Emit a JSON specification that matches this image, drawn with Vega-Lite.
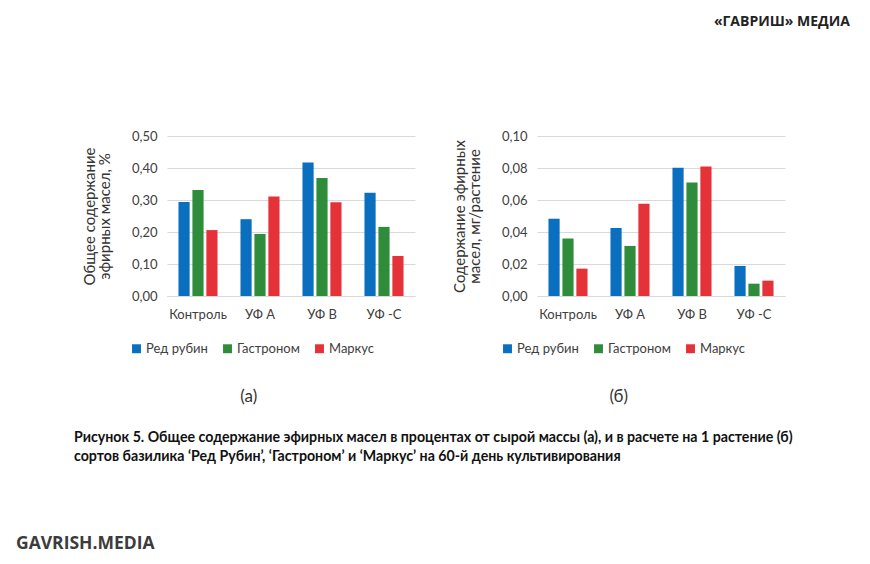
{
  "$schema": "https://vega.github.io/schema/vega-lite/v6.json",
  "background": "#ffffff",
  "padding": {"left": 16, "top": 15, "right": 20, "bottom": 10},
  "datasets": {
    "a": [
      {"group": "Контроль", "variety": "Ред рубин", "value": 0.294},
      {"group": "Контроль", "variety": "Гастроном", "value": 0.331},
      {"group": "Контроль", "variety": "Маркус", "value": 0.206},
      {"group": "УФ А", "variety": "Ред рубин", "value": 0.240},
      {"group": "УФ А", "variety": "Гастроном", "value": 0.194},
      {"group": "УФ А", "variety": "Маркус", "value": 0.311},
      {"group": "УФ В", "variety": "Ред рубин", "value": 0.417},
      {"group": "УФ В", "variety": "Гастроном", "value": 0.369},
      {"group": "УФ В", "variety": "Маркус", "value": 0.293},
      {"group": "УФ -С", "variety": "Ред рубин", "value": 0.323},
      {"group": "УФ -С", "variety": "Гастроном", "value": 0.216},
      {"group": "УФ -С", "variety": "Маркус", "value": 0.125}
    ],
    "b": [
      {"group": "Контроль", "variety": "Ред рубин", "value": 0.0483},
      {"group": "Контроль", "variety": "Гастроном", "value": 0.0360},
      {"group": "Контроль", "variety": "Маркус", "value": 0.0171},
      {"group": "УФ А", "variety": "Ред рубин", "value": 0.0425},
      {"group": "УФ А", "variety": "Гастроном", "value": 0.0313},
      {"group": "УФ А", "variety": "Маркус", "value": 0.0577},
      {"group": "УФ В", "variety": "Ред рубин", "value": 0.0802},
      {"group": "УФ В", "variety": "Гастроном", "value": 0.0710},
      {"group": "УФ В", "variety": "Маркус", "value": 0.0810},
      {"group": "УФ -С", "variety": "Ред рубин", "value": 0.0188},
      {"group": "УФ -С", "variety": "Гастроном", "value": 0.0077},
      {"group": "УФ -С", "variety": "Маркус", "value": 0.0096}
    ]
  },
  "title": {
    "text": "GAVRISH.MEDIA",
    "orient": "bottom",
    "anchor": "start",
    "frame": "group",
    "dx": -151,
    "offset": 71,
    "font": "Open Sans",
    "fontSize": 17.5,
    "fontWeight": "bold",
    "color": "#3c3c3c"
  },
  "vconcat": [
    {
      "title": {
        "text": "«ГАВРИШ» МЕДИА",
        "orient": "top",
        "anchor": "end",
        "frame": "group",
        "dx": 683,
        "offset": 101,
        "font": "Open Sans",
        "fontSize": 14,
        "fontWeight": "bold",
        "color": "#222222"
      },
      "vconcat": [
        {
          "title": {
            "text": [
              "Рисунок 5. Общее содержание эфирных масел в процентах от сырой массы (а), и в расчете на 1 растение (б)",
              "сортов базилика ‘Ред Рубин’, ‘Гастроном’ и ‘Маркус’ на 60-й день культивирования"
            ],
            "orient": "bottom",
            "anchor": "start",
            "frame": "group",
            "dx": -93,
            "offset": 26,
            "font": "Lato",
            "fontSize": 14.2,
            "lineHeight": 19,
            "fontWeight": "bold",
            "color": "#111111"
          },
          "hconcat": [
            {
              "width": 248,
              "height": 160,
              "data": {"name": "a"},
              "title": {"text": "(а)", "orient": "bottom", "anchor": "middle", "frame": "bounds", "offset": 33, "font": "Lato", "fontSize": 17, "fontWeight": "normal", "color": "#333333"},
              "mark": {"type": "bar"},
              "encoding": {
                "x": {"field": "group", "type": "nominal", "sort": ["Контроль", "УФ А", "УФ В", "УФ -С"], "scale": {"paddingInner": 0.37, "paddingOuter": 0.185}, "axis": {"title": null}},
                "xOffset": {"field": "variety", "type": "nominal", "sort": ["Ред рубин", "Гастроном", "Маркус"], "scale": {"paddingInner": 0.2, "paddingOuter": 0}},
                "y": {"field": "value", "type": "quantitative", "scale": {"domain": [0, 0.5], "nice": false}, "axis": {"values": [0, 0.1, 0.2, 0.3, 0.4, 0.5], "format": ".2f", "title": ["Общее содержание", "эфирных масел, %"]}},
                "color": {"field": "variety", "type": "nominal", "sort": ["Ред рубин", "Гастроном", "Маркус"], "scale": {"domain": ["Ред рубин", "Гастроном", "Маркус"], "range": ["#0B6FBF", "#2F8C3A", "#E53239"]}, "legend": {"orient": "none", "legendX": -37, "legendY": 206, "direction": "horizontal", "title": null}}
              }
            },
            {
              "width": 248,
              "height": 160,
              "data": {"name": "b"},
              "title": {"text": "(б)", "orient": "bottom", "anchor": "middle", "frame": "bounds", "offset": 33, "font": "Lato", "fontSize": 17, "fontWeight": "normal", "color": "#333333"},
              "mark": {"type": "bar"},
              "encoding": {
                "x": {"field": "group", "type": "nominal", "sort": ["Контроль", "УФ А", "УФ В", "УФ -С"], "scale": {"paddingInner": 0.37, "paddingOuter": 0.185}, "axis": {"title": null}},
                "xOffset": {"field": "variety", "type": "nominal", "sort": ["Ред рубин", "Гастроном", "Маркус"], "scale": {"paddingInner": 0.2, "paddingOuter": 0}},
                "y": {"field": "value", "type": "quantitative", "scale": {"domain": [0, 0.1], "nice": false}, "axis": {"values": [0, 0.02, 0.04, 0.06, 0.08, 0.1], "format": ".2f", "title": ["Содержание эфирных", "масел, мг/растение"]}},
                "color": {"field": "variety", "type": "nominal", "sort": ["Ред рубин", "Гастроном", "Маркус"], "scale": {"domain": ["Ред рубин", "Гастроном", "Маркус"], "range": ["#0B6FBF", "#2F8C3A", "#E53239"]}, "legend": {"orient": "none", "legendX": -36, "legendY": 206, "direction": "horizontal", "title": null}}
              }
            }
          ],
          "spacing": 37,
          "resolve": {"scale": {"y": "independent", "x": "independent", "color": "independent", "xOffset": "independent"}, "legend": {"color": "independent"}, "axis": {"y": "independent"}}
        }
      ]
    }
  ],
  "config": {
    "locale": {"number": {"decimal": ",", "thousands": " ", "grouping": [3], "currency": ["", " ₽"]}},
    "view": {"stroke": null},
    "font": "Lato",
    "axis": {
      "labelFont": "Lato",
      "labelFontSize": 13,
      "labelColor": "#404040",
      "titleFont": "Lato",
      "titleFontSize": 15,
      "titleFontWeight": "normal",
      "titleColor": "#333333",
      "gridColor": "#d9d9d9",
      "domainColor": "#d9d9d9",
      "ticks": false
    },
    "axisX": {"labelAngle": 0, "labelPadding": 12, "grid": false, "domain": true},
    "axisY": {"domain": false, "labelPadding": 10, "titlePadding": 19, "titleLineHeight": 15},
    "legend": {
      "symbolType": "square",
      "symbolSize": 80,
      "symbolStrokeWidth": 0,
      "labelFont": "Lato",
      "labelFontSize": 13,
      "labelColor": "#404040",
      "columnPadding": 13,
      "labelOffset": 3
    }
  }
}
